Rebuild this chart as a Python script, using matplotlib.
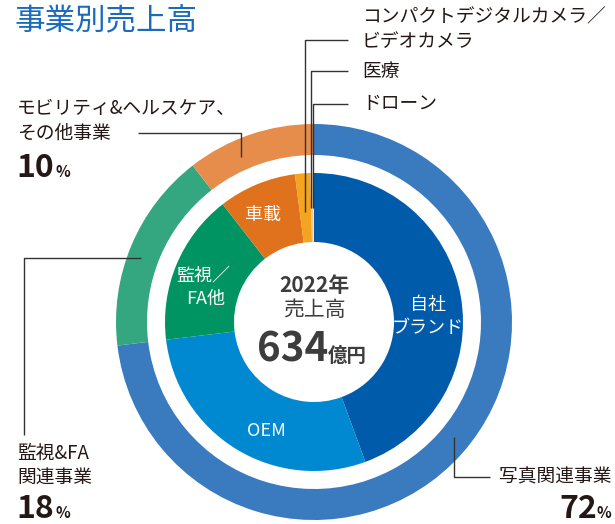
import matplotlib
matplotlib.use("Agg")
import matplotlib.pyplot as plt

plt.rcParams['font.family'] = ['Noto Sans CJK JP', 'DejaVu Sans']

# データ（2022年 売上高 634億円）
# 外側: 事業セグメント（表示値 % と、図から読んだ扇の比率）
segments = ['写真関連事業', '監視&FA関連事業', 'モビリティ&ヘルスケア、その他事業']
segment_pct_label = [72, 18, 10]
segment_share = [73.1, 16.4, 10.5]
segment_colors = ['#3a7bbf', '#34a780', '#e68d4b']

# 内側: 内訳
items = ['自社\nブランド', 'OEM', '監視／\nFA他', '車載',
         'コンパクトデジタルカメラ／ビデオカメラ', '医療', 'ドローン']
item_share = [44.4, 28.7, 16.4, 8.45, 1.65, 0.25, 0.15]
item_colors = ['#005bab', '#0089d0', '#009462', '#e0711d',
               '#f4a41f', '#f7c58a', '#fbdcb0']

year = 2022
total_sales = 634

W, H = 615, 524
fig = plt.figure(figsize=(W / 100, H / 100), dpi=100)
ax = fig.add_axes([0, 0, 1, 1])

cx, cy = 314, H - 322
text_color = '#231815'

# 外側リング
ax.pie(segment_share, radius=198, center=(cx, cy), startangle=90, counterclock=False,
       colors=segment_colors, wedgeprops=dict(width=31, linewidth=0))
# 内側リング
ax.pie(item_share, radius=149, center=(cx, cy), startangle=90, counterclock=False,
       colors=item_colors, wedgeprops=dict(width=69, linewidth=0))

ax.set_xlim(0, W)
ax.set_ylim(0, H)
ax.set_aspect('equal')
ax.axis('off')


def img_text(x, y, s, **kw):
    # 画像座標（上が0）で文字を置く
    return ax.text(x, H - y, s, **kw)


def leader(xs, ys):
    ax.plot(xs, [H - y for y in ys], color='#333333', lw=1.0, solid_capstyle='butt')


# 内側ラベル（白文字）
in_kw = dict(color='white', fontsize=13, ha='center', va='center')
img_text(428, 305, items[0].split('\n')[0], **in_kw)
img_text(428, 328, items[0].split('\n')[1], **in_kw)
img_text(266, 431, items[1], **in_kw)
img_text(203, 275, items[2].split('\n')[0], **in_kw)
img_text(206, 299, items[2].split('\n')[1], **in_kw)
img_text(263, 215, items[3], **in_kw)

# タイトル
img_text(15, 22, '事業別売上高', fontsize=22, color='#1a6bbd', va='center', ha='left')

# 中央
img_text(cx, 285, f'{year}年', fontsize=15, fontweight='bold', color='#3d3d3d', ha='center', va='center')
img_text(cx, 310, '売上高', fontsize=15, color='#3d3d3d', ha='center', va='center')
img_text(328, 362, f'{total_sales}', fontsize=29, fontweight='bold', color='#3d3d3d', ha='right', va='baseline')
img_text(328, 362, '億円', fontsize=14, fontweight='bold', color='#3d3d3d', ha='left', va='baseline')

# 小さい内訳のラベル
lab_kw = dict(fontsize=13.5, color=text_color, ha='left', va='center')
img_text(362, 17, 'コンパクトデジタルカメラ／', **lab_kw)
img_text(362, 42, 'ビデオカメラ', **lab_kw)
img_text(362, 72, items[5], **lab_kw)
img_text(362, 104, items[6], **lab_kw)
leader([348, 305, 305], [40, 40, 212])
leader([348, 310.5, 310.5], [71, 71, 208])
leader([348, 312.5, 312.5], [104, 104, 208])

# セグメントのラベル
img_text(17, 108, 'モビリティ&ヘルスケア、', **lab_kw)
img_text(17, 133, 'その他事業', **lab_kw)
leader([138, 241, 241], [133, 133, 157])
img_text(17, 453, '監視&FA', **lab_kw)
img_text(17, 477, '関連事業', **lab_kw)
leader([141, 24, 24], [258, 258, 435])
img_text(612, 477, '写真関連事業', fontsize=13.5, color=text_color, ha='right', va='center')
leader([454, 454, 490], [437, 477, 477])

pct_kw = dict(fontsize=23, fontweight='bold', color=text_color, va='baseline')
pct_small = dict(fontsize=11, fontweight='bold', color=text_color, va='baseline')
img_text(16, 177, f'{segment_pct_label[2]}', ha='left', **pct_kw)
img_text(56, 177, '%', ha='left', **pct_small)
img_text(16, 518, f'{segment_pct_label[1]}', ha='left', **pct_kw)
img_text(56, 518, '%', ha='left', **pct_small)
img_text(597, 518, f'{segment_pct_label[0]}', ha='right', **pct_kw)
img_text(611, 518, '%', ha='right', **pct_small)

fig.savefig('out.png', dpi=100)
